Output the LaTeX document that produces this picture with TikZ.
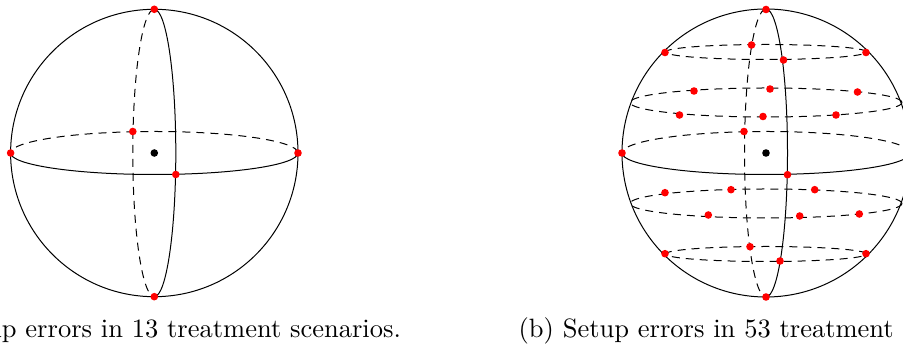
\documentclass[tikz,border=0pt]{standalone}
\tikzset{
  x=1pt,y=1pt,
  wire/.style={line width=1pt,black},
  back/.style={wire,dash pattern=on 8pt off 6pt},
  rdot/.style={circle,fill=red,inner sep=0pt,minimum size=7.6pt},
  kdot/.style={circle,fill=black,inner sep=0pt,minimum size=7.6pt},
  capt/.style={inner sep=0pt,anchor=base,scale=2.65},
}
\begin{document}
\begin{tikzpicture}
\useasboundingbox (0,0) rectangle (903,347);
\clip (0,0) rectangle (903,347);
% left sphere
\coordinate (L) at (154.3,194);
\draw[wire] (L) circle[radius=143.7];
\draw[wire] (L) ++(143.7,0) arc[start angle=0,end angle=-180,x radius=143.7,y radius=21.5];
\draw[back] (L) ++(143.7,0) arc[start angle=0,end angle=180,x radius=143.7,y radius=21.5];
\draw[wire] (L) ++(0,143.7) arc[start angle=90,end angle=-90,x radius=21.5,y radius=143.7];
\draw[back] (L) ++(0,143.7) arc[start angle=90,end angle=270,x radius=21.5,y radius=143.7];
\node[kdot] (lc) at (L) {};
\node[rdot] (l1) at (154.3,337.7) {};
\node[rdot] (l2) at (154.3,50.3) {};
\node[rdot] (l3) at (10.6,194) {};
\node[rdot] (l4) at (298,194) {};
\node[rdot] (l5) at (132.8,215.5) {};
\node[rdot] (l6) at (175.8,172.5) {};
% right sphere
\coordinate (R) at (766,194);
\draw[wire] (R) circle[radius=144];
\draw[wire] (R) ++(144,0) arc[start angle=0,end angle=-180,x radius=144,y radius=21.5];
\draw[back] (R) ++(144,0) arc[start angle=0,end angle=180,x radius=144,y radius=21.5];
\draw[wire] (R) ++(0,144) arc[start angle=90,end angle=-90,x radius=21.5,y radius=144];
\draw[back] (R) ++(0,144) arc[start angle=90,end angle=270,x radius=21.5,y radius=144];
\draw[back] (R) ++(100.5,101) arc[start angle=0,end angle=360,x radius=100.5,y radius=7.5];
\draw[back] (R) ++(136,50.5) arc[start angle=0,end angle=360,x radius=136,y radius=14.5];
\draw[back] (R) ++(136,-50.5) arc[start angle=0,end angle=360,x radius=136,y radius=14.5];
\draw[back] (R) ++(100.5,-101) arc[start angle=0,end angle=360,x radius=100.5,y radius=7.5];
\node[kdot] (rc) at (R) {};
\foreach \n/\px/\py in {a/766/337.5,b/665/294.5,c/866/294.5,d/751.5/302,e/783.5/287,
  f/694/256,g/770/258,h/857.5/255,i/679.5/232,j/763/230.5,k/836/232,
  l/744/215.5,m/622/194,n/787.5/172.3,
  o/665/154.3,p/731/157.3,q/814.7/157.3,r/708.3/132,s/799.7/131,t/859.3/133,
  u/665/93.3,v/866/93.3,w/750/100.3,y/780/86,z/766/50}
  \node[rdot] (r\n) at (\px,\py) {};
% captions
\node[capt] (ca) at (154.3,9) {(a) Setup errors in 13 treatment scenarios.};
\node[capt] (cb) at (766,9) {(b) Setup errors in 53 treatment scenarios.};
\end{tikzpicture}
\end{document}
